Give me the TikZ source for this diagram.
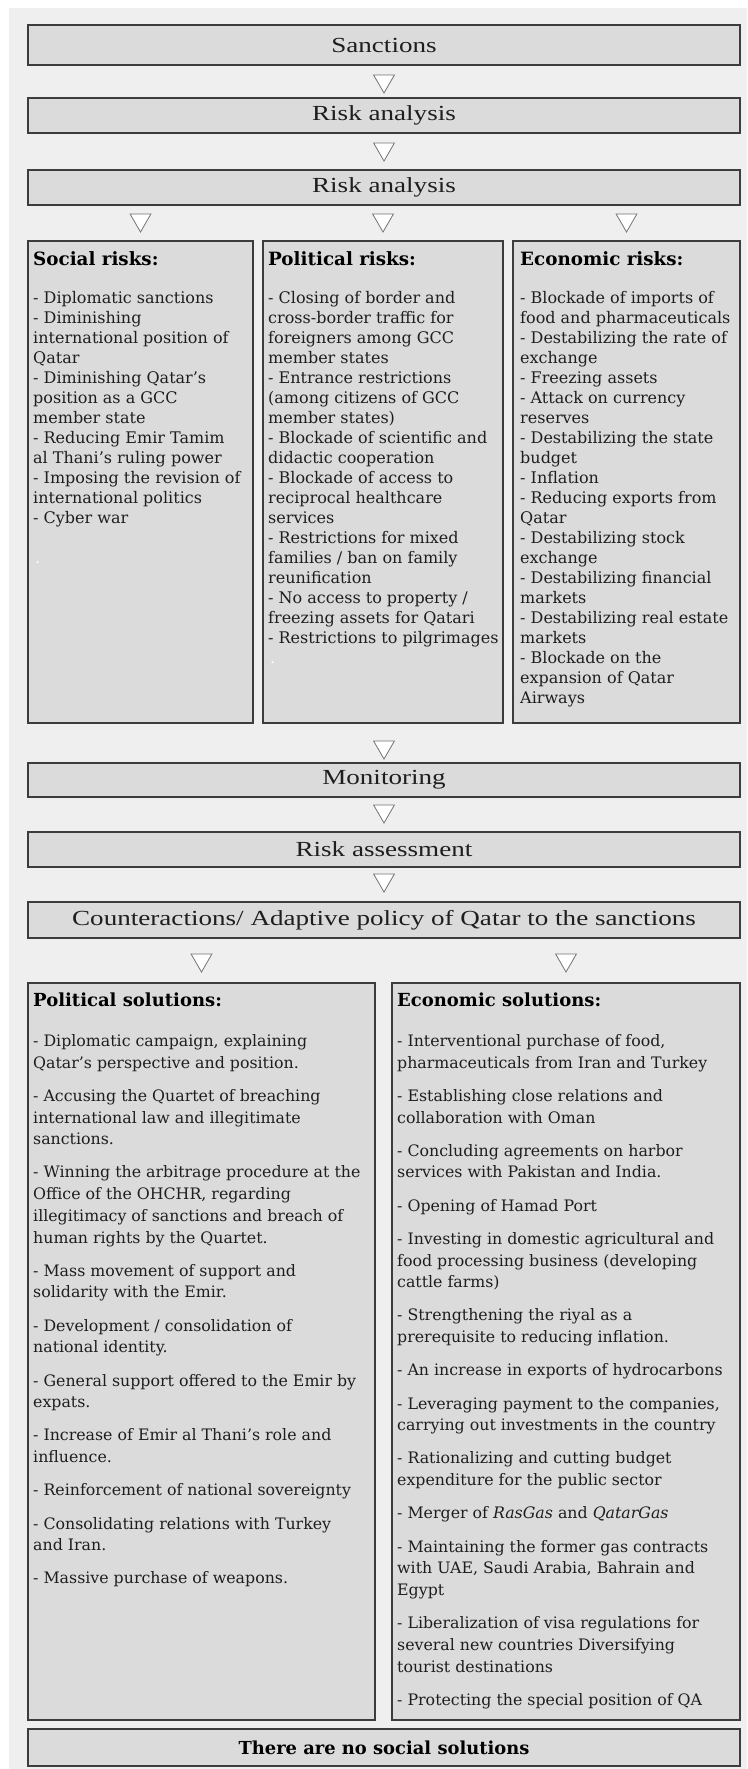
\documentclass[tikz,border=0pt]{standalone}
\usepackage{fontspec}
\setmainfont{DejaVu Serif}
\newfontfamily\hdfont[FakeStretch=1.26]{Liberation Serif}
\usetikzlibrary{shapes.geometric}
\definecolor{bgc}{HTML}{EFEFEF}
\definecolor{boxc}{HTML}{DBDBDB}
\definecolor{linec}{HTML}{3C3C3C}
\definecolor{txtc}{HTML}{1E1E1E}
\tikzset{
  flowbox/.style={draw=linec, line width=1.6pt, fill=boxc, inner sep=0pt},
  flowtext/.style={font=\hdfont\fontsize{21.5}{24}\selectfont, text=txtc},
  tri/.style={draw=black!55, fill=white, line width=0.8pt, regular polygon,
    regular polygon sides=3, shape border rotate=180, minimum size=24pt, inner sep=0pt},
  listtext/.style={anchor=north west, inner sep=0pt, align=left,
    font=\fontsize{16}{20}\selectfont, text=txtc},
  sollist/.style={anchor=north west, inner sep=0pt, align=left,
    font=\fontsize{15.8}{21.7}\selectfont, text=txtc},
  headtext/.style={anchor=base west, inner sep=0pt,
    font=\bfseries\fontsize{18.3}{20}\selectfont, text=black},
  solhead/.style={anchor=base west, inner sep=0pt,
    font=\bfseries\fontsize{18}{20}\selectfont, text=black},
  dottext/.style={anchor=base west, inner sep=0pt, font=\fontsize{16}{20}\selectfont, text=white},
}
\begin{document}
\begin{tikzpicture}[x=1pt,y=-1pt]
\useasboundingbox (0,0) rectangle (747,1769);
\fill[bgc] (9,8) rectangle (747,1769);

% flow boxes
\node[flowbox, flowtext, minimum width=712pt, minimum height=40pt] (sanc) at (384,45) {Sanctions};
\node[tri] (t1) at (384,81) {};
\node[flowbox, flowtext, minimum width=712pt, minimum height=35pt] (ra1) at (384,115.5) {Risk analysis};
\node[tri] (t2) at (384,149) {};
\node[flowbox, flowtext, minimum width=712pt, minimum height=35pt] (ra2) at (384,187.5) {Risk analysis};
\node[tri] (t3a) at (140.5,220) {};
\node[tri] (t3b) at (383,220) {};
\node[tri] (t3c) at (626.5,220) {};

% risk columns
\node[flowbox, minimum width=225pt, minimum height=482pt] (soc) at (140.5,482) {};
\node[flowbox, minimum width=240pt, minimum height=482pt] (pol) at (383,482) {};
\node[flowbox, minimum width=227pt, minimum height=482pt] (eco) at (626.5,482) {};

\node[headtext] (soch) at (33,265) {Social risks:};
\node[headtext] (polh) at (268,265) {Political risks:};
\node[headtext] (ecoh) at (520,265) {Economic risks:};

\node[listtext] (socl) at (33,289) {\strut- Diplomatic sanctions\\
- Diminishing\\
international position of\\
Qatar\\
- Diminishing Qatar’s\\
position as a GCC\\
member state\\
- Reducing Emir Tamim\\
al Thani’s ruling power\\
- Imposing the revision of\\
international politics\\
- Cyber war};
\node[dottext] (socd) at (35,563) {.};

\node[listtext] (poll) at (268,289) {\strut- Closing of border and\\
cross-border traffic for\\
foreigners among GCC\\
member states\\
- Entrance restrictions\\
(among citizens of GCC\\
member states)\\
- Blockade of scientific and\\
didactic cooperation\\
- Blockade of access to\\
reciprocal healthcare\\
services\\
- Restrictions for mixed\\
families / ban on family\\
reunification\\
- No access to property /\\
freezing assets for Qatari\\
- Restrictions to pilgrimages};
\node[dottext] (pold) at (270,663) {.};

\node[listtext] (ecol) at (520,289) {\strut- Blockade of imports of\\
food and pharmaceuticals\\
- Destabilizing the rate of\\
exchange\\
- Freezing assets\\
- Attack on currency\\
reserves\\
- Destabilizing the state\\
budget\\
- Inflation\\
- Reducing exports from\\
Qatar\\
- Destabilizing stock\\
exchange\\
- Destabilizing financial\\
markets\\
- Destabilizing real estate\\
markets\\
- Blockade on the\\
expansion of Qatar\\
Airways};

\node[tri] (t4) at (384,747) {};
\node[flowbox, flowtext, minimum width=712pt, minimum height=34pt] (mon) at (384,780) {Monitoring};
\node[tri] (t5) at (384,811) {};
\node[flowbox, flowtext, minimum width=712pt, minimum height=35pt] (ras) at (384,849.5) {Risk assessment};
\node[tri] (t6) at (384,880) {};
\node[flowbox, flowtext, minimum width=712pt, minimum height=36pt] (cnt) at (384,920) {Counteractions/ Adaptive policy of Qatar to the sanctions};
\node[tri] (t7a) at (201.5,960) {};
\node[tri] (t7b) at (566,960) {};

% solutions
\node[flowbox, minimum width=347pt, minimum height=737pt] (psol) at (201.5,1351.5) {};
\node[flowbox, minimum width=348pt, minimum height=737pt] (esol) at (566,1351.5) {};

\node[solhead] (psolh) at (33,1006) {Political solutions:};
\node[solhead] (esolh) at (397,1006) {Economic solutions:};

\node[sollist] (psoll) at (33,1031) {\strut- Diplomatic campaign, explaining\\
Qatar’s perspective and position.\\[11.5pt]
- Accusing the Quartet of breaching\\
international law and illegitimate\\
sanctions.\\[11.5pt]
- Winning the arbitrage procedure at the\\
Office of the OHCHR, regarding\\
illegitimacy of sanctions and breach of\\
human rights by the Quartet.\\[11.5pt]
- Mass movement of support and\\
solidarity with the Emir.\\[11.5pt]
- Development / consolidation of\\
national identity.\\[11.5pt]
- General support offered to the Emir by\\
expats.\\[11.5pt]
- Increase of Emir al Thani’s role and\\
influence.\\[11.5pt]
- Reinforcement of national sovereignty\\[11.5pt]
- Consolidating relations with Turkey\\
and Iran.\\[11.5pt]
- Massive purchase of weapons.};

\node[sollist] (esoll) at (397,1031) {\strut- Interventional purchase of food,\\
pharmaceuticals from Iran and Turkey\\[11.5pt]
- Establishing close relations and\\
collaboration with Oman\\[11.5pt]
- Concluding agreements on harbor\\
services with Pakistan and India.\\[11.5pt]
- Opening of Hamad Port\\[11.5pt]
- Investing in domestic agricultural and\\
food processing business (developing\\
cattle farms)\\[11.5pt]
- Strengthening the riyal as a\\
prerequisite to reducing inflation.\\[11.5pt]
- An increase in exports of hydrocarbons\\[11.5pt]
- Leveraging payment to the companies,\\
carrying out investments in the country\\[11.5pt]
- Rationalizing and cutting budget\\
expenditure for the public sector\\[11.5pt]
- Merger of \textit{RasGas} and \textit{QatarGas}\\[11.5pt]
- Maintaining the former gas contracts\\
with UAE, Saudi Arabia, Bahrain and\\
Egypt\\[11.5pt]
- Liberalization of visa regulations for\\
several new countries Diversifying\\
tourist destinations\\[11.5pt]
- Protecting the special position of QA};

\node[flowbox, minimum width=712pt, minimum height=37pt,
  font=\bfseries\fontsize{17.9}{20}\selectfont, text=black] (nosoc) at (384,1747.5) {There are no social solutions};
\end{tikzpicture}
\end{document}
